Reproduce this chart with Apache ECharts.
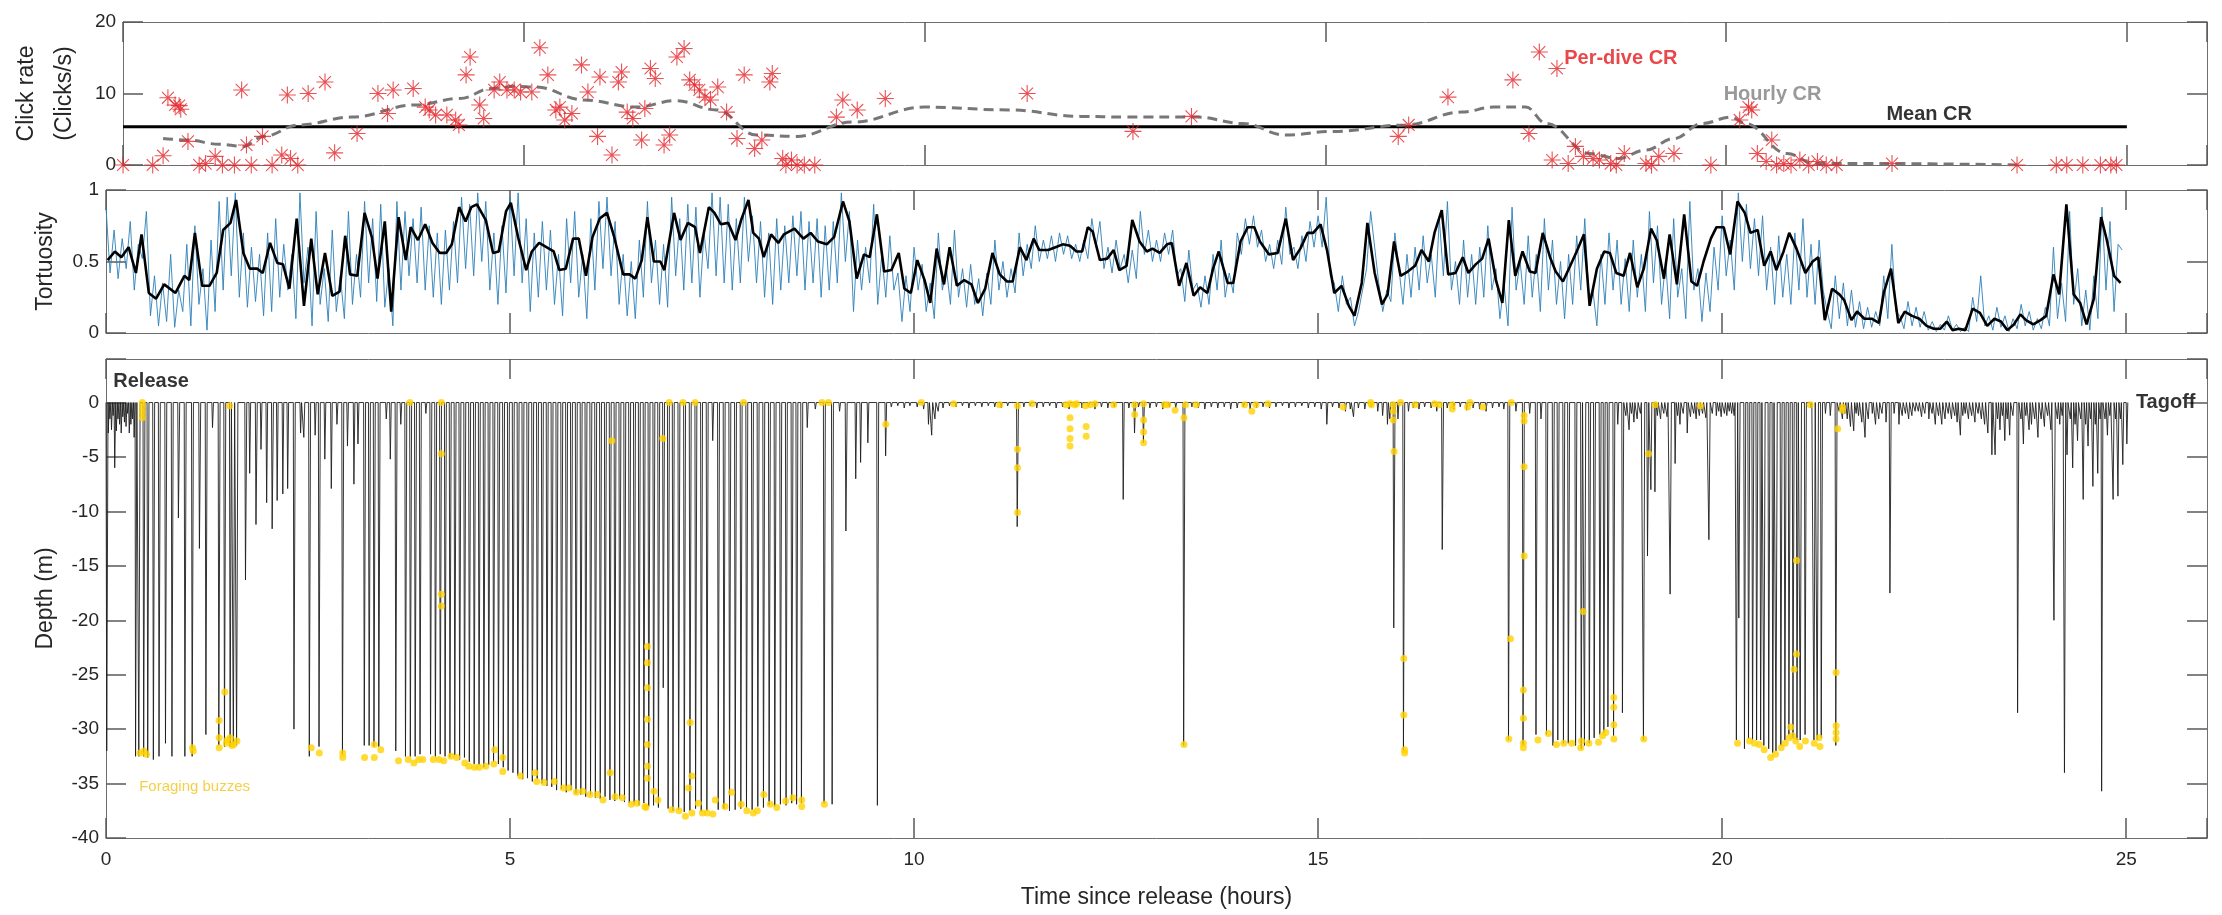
<!DOCTYPE html>
<html>
<head>
<meta charset="utf-8">
<title>Click rate, tortuosity and depth</title>
<script src="https://cdn.jsdelivr.net/npm/echarts@6/dist/echarts.min.js"></script>
<style>
html, body {margin: 0; padding: 0; background: #fff;}
#chart {width: 2222px; height: 915px;}
</style>
</head>
<body>
<div id="chart"></div>
<script>
// ---- data (time in hours since release) ----

// per-dive click rate [t, clicks/s]
var perDiveCR = [
    [0,0],[0.37,0],[0.5,1.3],[0.56,9.4],[0.65,8.4],[0.70,8.3],[0.72,7.8],[0.81,3.3],[0.95,0],[1.03,0.2],
    [1.15,1.2],[1.24,0],[1.39,0],[1.48,10.5],[1.54,2.8],[1.6,0],[1.74,4.0],[1.86,0],[1.98,1.4],[2.05,9.8],
    [2.09,0.9],[2.18,0],[2.31,10.0],[2.52,11.6],[2.64,1.7],[2.92,4.4],[3.18,10.0],[3.30,7.2],[3.37,10.5],[3.62,10.7],
    [3.77,8.1],[3.82,7.7],[3.90,7.0],[4.04,7.0],[4.15,6.3],[4.19,5.6],[4.28,12.6],[4.33,15.1],[4.45,8.4],[4.50,6.5],
    [4.63,10.5],[4.70,11.6],[4.79,10.5],[4.88,10.5],[4.96,10.2],[5.10,10.2],[5.20,16.4],[5.30,12.6],[5.40,7.7],[5.45,8.1],
    [5.51,6.3],[5.60,7.2],[5.72,14.0],[5.80,10.2],[5.92,4.0],[5.95,12.3],[6.10,1.4],[6.18,11.6],[6.22,13.0],[6.29,7.4],
    [6.36,6.5],[6.47,3.5],[6.51,7.9],[6.58,13.5],[6.64,12.1],[6.75,2.8],[6.82,4.2],[6.91,15.1],[7.00,16.3],[7.07,11.9],
    [7.13,11.2],[7.19,10.5],[7.26,9.5],[7.33,9.1],[7.42,10.9],[7.53,7.4],[7.66,3.7],[7.75,12.6],[7.88,2.3],[7.97,3.5],
    [8.07,11.6],[8.10,12.8],[8.23,0.9],[8.27,0],[8.34,0.7],[8.41,0],[8.50,0],[8.63,0],[8.90,6.7],[8.98,9.1],
    [9.16,7.7],[9.51,9.3],[11.28,10.0],[12.60,4.7],[13.33,6.8],[15.91,4.0],[16.04,5.6],[16.53,9.5],[17.34,11.9],[17.54,4.4],
    [17.67,15.8],[17.83,0.7],[17.89,13.5],[18.03,0.2],[18.12,2.6],[18.22,1.2],[18.34,0.9],[18.42,0.7],[18.56,0.2],[18.63,0],
    [18.73,1.6],[19.00,0.2],[19.07,0],[19.16,1.2],[19.35,1.6],[19.81,0],[20.17,6.3],[20.28,8.1],[20.32,7.7],[20.39,1.6],
    [20.50,0.5],[20.57,3.5],[20.63,0],[20.72,0.2],[20.81,0],[20.92,0.7],[21.03,0],[21.14,0.5],[21.25,0],[21.38,0],
    [22.07,0.2],[23.63,0],[24.12,0],[24.25,0],[24.45,0],[24.67,0],[24.80,0],[24.87,0]
];

// hourly click rate [t, clicks/s]
var hourlyCR = [
    [0.5,3.7],[0.8,3.5],[1.2,2.9],[1.5,2.6],[1.75,4.0],[2.2,5.6],[2.85,6.7],[3.65,8.4],[4.2,9.3],[4.6,10.7],
    [4.9,11.0],[5.15,10.9],[5.75,9.1],[6.4,8.1],[6.9,9.0],[7.4,7.7],[7.9,4.2],[8.4,4.0],[9.1,6.0],[10.0,8.1],
    [11.05,7.7],[11.95,6.8],[12.5,6.7],[13.4,6.7],[13.97,5.8],[14.5,4.2],[15.1,4.7],[16.0,5.6],[16.7,7.4],[17.1,8.1],
    [17.5,8.1],[17.76,5.8],[18.3,1.6],[18.65,0.9],[19.0,2.1],[19.35,3.7],[19.7,5.8],[20.06,6.7],[20.24,5.8],[20.76,1.6],
    [21.1,0.2],[22.0,0.2],[23.63,0]
];

var meanCR = 5.35;
var meanCRSpan = [0, 25];

// smoothed tortuosity [t, value]
var tortSmooth = [
    [0.02,0.51],[0.11,0.57],[0.19,0.53],[0.28,0.60],[0.37,0.42],[0.44,0.69],[0.53,0.28],[0.62,0.24],[0.72,0.34],[0.86,0.28],
    [0.97,0.40],[1.03,0.37],[1.10,0.70],[1.19,0.33],[1.28,0.33],[1.37,0.42],[1.45,0.72],[1.54,0.77],[1.61,0.93],[1.70,0.56],
    [1.78,0.45],[1.87,0.45],[1.94,0.42],[2.03,0.63],[2.12,0.49],[2.19,0.48],[2.27,0.31],[2.36,0.80],[2.45,0.19],[2.54,0.66],
    [2.62,0.27],[2.71,0.56],[2.80,0.26],[2.89,0.29],[2.96,0.68],[3.02,0.41],[3.11,0.40],[3.20,0.84],[3.29,0.67],[3.36,0.38],
    [3.45,0.78],[3.53,0.15],[3.62,0.81],[3.71,0.51],[3.77,0.74],[3.86,0.65],[3.95,0.76],[4.04,0.63],[4.13,0.56],[4.21,0.56],
    [4.28,0.62],[4.37,0.88],[4.45,0.78],[4.52,0.88],[4.59,0.90],[4.70,0.79],[4.79,0.56],[4.86,0.57],[4.95,0.85],[5.01,0.91],
    [5.10,0.67],[5.20,0.44],[5.27,0.57],[5.36,0.63],[5.45,0.60],[5.54,0.57],[5.61,0.44],[5.69,0.45],[5.78,0.66],[5.85,0.66],
    [5.94,0.40],[6.02,0.67],[6.11,0.80],[6.20,0.84],[6.29,0.67],[6.40,0.41],[6.48,0.41],[6.55,0.38],[6.63,0.51],[6.70,0.81],
    [6.78,0.50],[6.86,0.50],[6.91,0.44],[7.03,0.84],[7.11,0.65],[7.20,0.77],[7.29,0.74],[7.35,0.56],[7.46,0.88],[7.53,0.84],
    [7.61,0.76],[7.70,0.77],[7.79,0.65],[7.86,0.79],[7.95,0.93],[8.01,0.70],[8.08,0.66],[8.14,0.53],[8.23,0.69],[8.32,0.63],
    [8.39,0.69],[8.52,0.73],[8.63,0.66],[8.72,0.70],[8.81,0.64],[8.92,0.62],[9.01,0.67],[9.12,0.92],[9.20,0.78],[9.29,0.38],
    [9.38,0.55],[9.45,0.53],[9.54,0.83],[9.63,0.43],[9.72,0.44],[9.81,0.56],[9.88,0.31],[9.96,0.28],[10.04,0.51],[10.13,0.37],
    [10.20,0.21],[10.28,0.59],[10.37,0.34],[10.44,0.60],[10.53,0.33],[10.62,0.37],[10.71,0.34],[10.79,0.21],[10.88,0.31],[10.97,0.56],
    [11.06,0.41],[11.15,0.36],[11.22,0.36],[11.31,0.60],[11.39,0.51],[11.48,0.66],[11.55,0.58],[11.66,0.58],[11.75,0.60],[11.84,0.62],
    [11.93,0.61],[12.01,0.57],[12.08,0.57],[12.15,0.74],[12.21,0.71],[12.30,0.51],[12.39,0.52],[12.47,0.58],[12.54,0.44],[12.63,0.47],
    [12.70,0.79],[12.79,0.64],[12.88,0.57],[12.95,0.59],[13.04,0.56],[13.13,0.62],[13.19,0.63],[13.28,0.33],[13.37,0.49],[13.46,0.26],
    [13.54,0.32],[13.63,0.28],[13.70,0.45],[13.77,0.57],[13.88,0.35],[13.95,0.35],[14.04,0.64],[14.13,0.74],[14.21,0.74],[14.28,0.64],
    [14.39,0.55],[14.50,0.56],[14.60,0.80],[14.69,0.51],[14.78,0.59],[14.87,0.70],[14.94,0.70],[15.03,0.76],[15.11,0.58],[15.20,0.28],
    [15.29,0.33],[15.38,0.19],[15.45,0.12],[15.54,0.35],[15.61,0.77],[15.70,0.42],[15.79,0.20],[15.86,0.27],[15.94,0.64],[16.02,0.40],
    [16.11,0.43],[16.20,0.47],[16.28,0.58],[16.37,0.50],[16.44,0.70],[16.53,0.86],[16.61,0.41],[16.70,0.42],[16.79,0.53],[16.86,0.42],
    [16.95,0.48],[17.03,0.52],[17.11,0.66],[17.20,0.37],[17.28,0.21],[17.36,0.79],[17.44,0.40],[17.53,0.57],[17.62,0.43],[17.69,0.42],
    [17.78,0.70],[17.87,0.53],[17.94,0.43],[18.03,0.36],[18.12,0.47],[18.20,0.57],[18.29,0.69],[18.36,0.19],[18.45,0.45],[18.54,0.57],
    [18.61,0.56],[18.69,0.42],[18.78,0.40],[18.86,0.56],[18.95,0.32],[19.03,0.45],[19.12,0.73],[19.19,0.65],[19.28,0.38],[19.35,0.69],
    [19.44,0.34],[19.53,0.83],[19.62,0.36],[19.69,0.33],[19.77,0.50],[19.86,0.66],[19.93,0.74],[20.02,0.74],[20.10,0.55],[20.19,0.92],
    [20.28,0.84],[20.35,0.70],[20.44,0.72],[20.52,0.47],[20.60,0.57],[20.67,0.44],[20.76,0.57],[20.83,0.70],[20.92,0.59],[21.03,0.42],
    [21.12,0.50],[21.19,0.53],[21.27,0.09],[21.36,0.31],[21.45,0.27],[21.51,0.23],[21.60,0.09],[21.67,0.15],[21.76,0.10],[21.85,0.10],
    [21.94,0.07],[22.00,0.28],[22.09,0.45],[22.18,0.07],[22.26,0.15],[22.35,0.12],[22.44,0.10],[22.53,0.05],[22.62,0.03],[22.70,0.03],
    [22.78,0.08],[22.85,0.02],[22.93,0.03],[23.01,0.02],[23.10,0.17],[23.19,0.14],[23.28,0.05],[23.37,0.10],[23.45,0.08],[23.53,0.02],
    [23.61,0.06],[23.69,0.13],[23.76,0.09],[23.85,0.06],[23.94,0.09],[24.01,0.12],[24.10,0.41],[24.17,0.27],[24.26,0.90],[24.35,0.27],
    [24.43,0.21],[24.51,0.06],[24.60,0.24],[24.69,0.81],[24.76,0.65],[24.85,0.40],[24.93,0.35]
];

// per-dive tortuosity, one row per hour, sampled every 0.05 h
var tortRawStep = 0.05;
var tortRawRows = [
    [0.88,0.42,0.72,0.38,0.66,0.45,0.78,0.30,0.62,0.52,0.85,0.12,0.40,0.05,0.35,0.08,0.55,0.04,0.30,0.15],
    [0.62,0.05,0.75,0.20,0.45,0.02,0.65,0.15,0.92,0.30,0.95,0.40,0.98,0.25,0.70,0.18,0.60,0.22,0.55,0.12],
    [0.70,0.15,0.80,0.25,0.62,0.30,0.55,0.10,0.98,0.35,0.60,0.05,0.85,0.20,0.45,0.08,0.72,0.15,0.40,0.10],
    [0.85,0.20,0.55,0.25,0.92,0.35,0.80,0.22,0.90,0.18,0.45,0.05,0.92,0.30,0.85,0.40,0.80,0.35,0.88,0.30],
    [0.75,0.25,0.70,0.20,0.72,0.30,0.78,0.35,0.95,0.45,0.90,0.40,0.98,0.50,0.92,0.30,0.70,0.20,0.75,0.28],
    [0.95,0.40,0.98,0.35,0.80,0.15,0.70,0.25,0.78,0.30,0.72,0.20,0.55,0.12,0.80,0.35,0.85,0.25,0.55,0.10],
    [0.80,0.30,0.92,0.45,0.95,0.40,0.78,0.20,0.55,0.12,0.50,0.10,0.65,0.25,0.92,0.35,0.65,0.20,0.62,0.18],
    [0.95,0.40,0.80,0.30,0.90,0.35,0.88,0.25,0.70,0.45,0.98,0.40,0.95,0.35,0.90,0.30,0.80,0.35,0.95,0.50],
    [0.82,0.35,0.78,0.25,0.70,0.20,0.80,0.30,0.75,0.35,0.82,0.40,0.85,0.30,0.78,0.35,0.80,0.25,0.75,0.30],
    [0.78,0.35,0.98,0.50,0.85,0.15,0.65,0.30,0.60,0.35,0.90,0.20,0.55,0.25,0.68,0.30,0.42,0.08,0.40,0.15],
    [0.60,0.30,0.48,0.15,0.35,0.10,0.70,0.30,0.45,0.20,0.72,0.25,0.45,0.18,0.48,0.20,0.38,0.12,0.42,0.20],
    [0.65,0.30,0.50,0.25,0.45,0.28,0.70,0.40,0.62,0.45,0.75,0.50,0.65,0.52,0.68,0.50,0.70,0.55,0.68,0.52],
    [0.62,0.50,0.65,0.52,0.80,0.60,0.78,0.45,0.60,0.42,0.65,0.45,0.55,0.35,0.58,0.38,0.85,0.55,0.72,0.50],
    [0.65,0.50,0.70,0.55,0.72,0.40,0.45,0.22,0.58,0.30,0.35,0.18,0.40,0.20,0.55,0.30,0.65,0.25,0.42,0.28],
    [0.70,0.55,0.80,0.62,0.82,0.60,0.72,0.50,0.62,0.45,0.65,0.48,0.88,0.55,0.60,0.45,0.68,0.50,0.78,0.60],
    [0.82,0.60,0.95,0.40,0.35,0.15,0.40,0.20,0.25,0.05,0.15,0.30,0.45,0.85,0.60,0.35,0.15,0.30,0.22,0.70],
    [0.45,0.20,0.55,0.25,0.60,0.30,0.68,0.35,0.55,0.25,0.80,0.40,0.92,0.30,0.50,0.20,0.65,0.25,0.55,0.20],
    [0.60,0.25,0.75,0.30,0.45,0.10,0.35,0.05,0.88,0.30,0.50,0.20,0.68,0.25,0.55,0.15,0.80,0.30,0.65,0.20],
    [0.50,0.10,0.55,0.20,0.68,0.30,0.80,0.25,0.30,0.05,0.55,0.20,0.70,0.30,0.65,0.20,0.52,0.15,0.65,0.25],
    [0.55,0.15,0.85,0.35,0.75,0.20,0.50,0.10,0.80,0.25,0.45,0.10,0.92,0.30,0.45,0.08,0.42,0.15,0.60,0.30],
    [0.82,0.40,0.65,0.30,0.98,0.50,0.90,0.45,0.80,0.40,0.82,0.30,0.60,0.20,0.68,0.25,0.55,0.20,0.70,0.30],
    [0.80,0.25,0.62,0.20,0.65,0.30,0.15,0.03,0.40,0.10,0.35,0.05,0.30,0.04,0.22,0.03,0.18,0.04,0.15,0.05],
    [0.40,0.10,0.62,0.15,0.12,0.03,0.22,0.05,0.18,0.04,0.15,0.02,0.08,0.01,0.06,0.02,0.12,0.02,0.06,0.01],
    [0.04,0.01,0.25,0.08,0.40,0.05,0.12,0.02,0.18,0.04,0.12,0.01,0.10,0.03,0.20,0.05,0.15,0.02,0.10,0.03],
    [0.18,0.05,0.60,0.10,0.35,0.08,0.85,0.20,0.45,0.05,0.30,0.02,0.40,0.10,0.88,0.30,0.78,0.15,0.62,0.58]
];

// dives [t, maximum depth in m]
var divesA = [
    [0.013,32.0],[0.03,2.8],[0.05,1.5],[0.07,2.5],[0.09,1.2],[0.11,6.0],[0.13,2.6],[0.15,1.5],[0.17,2.0],[0.19,2.8],
    [0.21,1.3],[0.23,1.8],[0.25,2.2],[0.27,1.0],[0.29,2.8],[0.31,2.0],[0.33,1.5],[0.35,3.2],
    [0.37,32.5],[0.41,32.5],[0.47,32.5],[0.52,32.6],[0.59,32.8],[0.66,32.5],[0.74,31.3],[0.82,32.5],[0.90,10.6],[0.98,32.5],
    [1.07,32.5],[1.16,13.4],[1.24,30.5],[1.32,2.3],[1.40,31.5],[1.47,31.6],[1.54,31.6],[1.58,31.5],[1.62,31.5],[1.73,16.3],
    [1.78,6.5],[1.86,11.2],[1.92,4.3],[1.99,9.2],[2.06,11.6],[2.12,9.0],[2.19,8.4],[2.25,7.9],[2.33,30.0],[2.41,2.8],
    [2.45,3.2],[2.52,32.5],[2.59,3.0],[2.64,31.6],[2.71,5.2],[2.79,7.9],[2.86,2.0],[2.93,32.3],[2.99,4.0],[3.07,7.5],
    [3.12,3.8],[3.20,31.5],[3.26,31.5],[3.32,31.6],[3.38,31.6],[3.47,1.5],[3.52,5.2],[3.59,32.0],[3.65,2.0],
    [3.71,32.5],[3.77,32.5],[3.83,32.5],[3.89,32.3],[3.96,1.0],[4.02,32.3],[4.08,32.5],[4.14,32.3],[4.20,32.5],[4.26,32.6],
    [4.32,32.4],[4.38,32.8],[4.44,32.6],[4.50,33.0],[4.56,33.2],[4.62,33.3],[4.68,33.5],[4.74,33.3],[4.80,33.0],[4.86,33.2],
    [4.92,33.5],[4.98,33.8],[5.04,34.0],[5.10,34.3],[5.16,34.6],[5.22,34.5],[5.28,34.8],[5.34,34.6],[5.40,35.0],[5.46,35.2],
    [5.52,35.3],[5.58,35.6],[5.64,35.5],[5.70,35.8],[5.76,35.6],[5.82,35.9],[5.88,36.0],[5.94,36.2],[6.00,36.0],[6.06,36.3],
    [6.12,36.4],[6.18,36.2],[6.24,36.5],[6.30,36.6],[6.36,36.4],[6.42,36.7],[6.48,36.8],[6.54,36.9],[6.60,37.0],[6.66,36.8],
    [6.72,37.1],[6.78,37.0],[6.84,37.2],[6.90,26.2],[6.96,37.3],[7.02,37.5],[7.09,37.4],[7.16,37.6],[7.23,37.5],[7.30,37.3],
    [7.37,37.6],[7.44,37.5],[7.51,3.5],[7.58,37.4],[7.65,37.3],[7.72,37.5],[7.79,37.4],[7.86,37.3],[7.93,37.2],[8.00,37.4],
    [8.07,37.1],[8.14,37.2],[8.21,37.0],[8.28,37.1],[8.35,36.9],[8.42,37.0],[8.49,36.8],[8.55,36.9],[8.61,36.8],[8.68,2.3],
    [8.78,0.6],[8.89,36.8],[8.99,36.9],[9.08,0.8],[9.16,11.8],[9.28,7.0],[9.34,5.5],[9.43,3.7],[9.55,37.0],[9.65,4.9]
];
var divesB = [
    [9.72,0.4],[9.80,0.3],[9.88,0.5],[9.95,0.3],[10.04,0.4],[10.12,0.6],[10.18,2.0],[10.22,3.0],[10.26,1.5],[10.30,0.8],
    [10.36,0.5],[10.44,0.3],[10.52,0.4],[10.60,0.3],[10.68,0.5],[10.76,0.3],[10.84,0.4],[10.92,0.3],[11.00,0.4],[11.08,0.5],
    [11.16,0.3],[11.28,11.4],[11.36,0.4],[11.44,0.3],[11.52,0.5],[11.60,0.4],[11.68,0.3],[11.76,0.5],[11.84,0.4],[11.92,0.6],
    [12.00,0.4],[12.08,0.5],[12.16,0.4],[12.24,0.6],[12.32,0.4],[12.40,0.5],[12.48,0.4],[12.59,8.9],[12.66,0.5],[12.73,2.8],
    [12.78,0.4],[12.84,3.7],[12.92,0.5],[13.00,0.4],[13.08,0.6],[13.16,0.4],[13.24,0.5],[13.34,31.5],[13.44,0.4],[13.52,0.5],
    [13.60,0.6],[13.68,0.4],[13.76,0.5],[13.84,0.4],[13.92,0.6],[14.00,0.5],[14.08,0.4],[14.16,0.6],[14.24,0.5],[14.32,0.4],
    [14.40,0.5],[14.48,0.4],[14.56,0.3],[14.64,0.5],[14.72,0.4],[14.80,0.3],[14.88,0.5],[14.96,0.4],[15.04,0.6],[15.11,2.0],
    [15.18,0.4],[15.26,0.5],[15.34,0.8],[15.40,0.6],[15.44,1.3],[15.50,0.5],[15.58,0.6],[15.66,0.4],[15.74,0.8],[15.80,1.2]
];
var divesC = [
    [15.86,2.0],[15.89,1.5],[15.94,20.7],[15.99,1.5],[16.06,32.0],[16.12,0.8],[16.18,0.5],[16.25,0.6],[16.32,0.4],[16.40,0.5],
    [16.47,0.8],[16.54,13.5],[16.60,0.5],[16.68,0.6],[16.76,0.4],[16.84,0.7],[16.92,0.5],[17.00,0.6],[17.08,0.8],[17.16,0.5],
    [17.24,0.4],[17.30,0.6],[17.36,31.0],[17.45,0.8],[17.54,31.5],[17.62,1.0],[17.70,30.5],[17.76,1.5],[17.83,30.5],[17.91,31.5],
    [17.97,31.0],[18.04,31.3],[18.10,31.3],[18.19,31.5],[18.26,31.8],[18.30,31.5],[18.36,31.3],[18.42,30.8],[18.49,30.5],[18.54,30.3],
    [18.59,29.8],[18.66,30.6],[18.71,2.0],[18.77,28.5],[18.81,1.2],[18.85,2.5],[18.88,1.0],[18.91,1.8],[18.95,1.5],[18.99,1.0],
    [19.03,31.0],[19.08,14.1],[19.12,8.0],[19.17,8.2],[19.20,1.2],[19.24,1.5],[19.28,1.0],[19.32,1.3],[19.36,17.6],[19.42,5.6],
    [19.45,1.2],[19.48,2.0],[19.52,1.0],[19.57,2.8],[19.61,1.3],[19.65,1.0],[19.68,1.5],[19.72,1.2],[19.76,1.0],[19.80,1.4],
    [19.84,12.6],[19.88,1.0],[19.93,1.2],[19.96,0.8],[19.99,1.3],[20.03,1.0],[20.06,1.2],[20.09,0.8],[20.12,1.0],[20.15,1.2]
];
var divesD = [
    [20.18,31.0],[20.21,19.8],[20.28,31.8],[20.33,30.9],[20.38,31.0],[20.43,31.0],[20.48,31.0],[20.52,31.5],[20.58,31.8],[20.63,32.2],
    [20.67,32.0],[20.73,31.5],[20.78,31.0],[20.83,30.5],[20.88,30.8],[20.93,31.0],[20.97,31.0],[21.03,30.5],[21.10,0.5],[21.14,31.0],
    [21.18,31.0],[21.23,30.8],[21.28,1.0],[21.34,1.2],[21.41,31.5],[21.45,0.8],[21.49,1.5],[21.52,1.0],[21.55,1.5],[21.59,2.2],
    [21.63,2.6],[21.66,1.0],[21.69,1.2],[21.73,1.8],[21.77,3.2],[21.81,1.5],[21.86,1.0],[21.90,2.0],[21.94,1.5],[21.98,1.0],
    [22.03,1.8],[22.08,17.5],[22.13,1.0],[22.19,2.0],[22.23,1.2],[22.27,1.0],[22.31,1.5],[22.35,1.2],[22.39,0.8],[22.43,0.8],
    [22.47,1.3],[22.51,1.0],[22.56,1.5],[22.60,1.0],[22.64,2.0],[22.68,1.2],[22.72,2.0],[22.76,1.5],[22.80,1.0],[22.84,1.5],
    [22.88,1.2],[22.91,1.8],[22.95,3.0],[22.98,1.2],[23.01,1.0],[23.05,1.5],[23.09,1.2],[23.13,1.8],[23.17,1.0],[23.21,1.5],
    [23.25,2.0],[23.29,2.8],[23.34,4.8],[23.38,4.8],[23.41,1.5],[23.44,2.5],[23.47,1.2],[23.50,3.5],[23.53,1.5],[23.56,3.0],
    [23.60,1.2],[23.66,28.5],[23.70,1.5],[23.73,3.8],[23.76,1.2],[23.80,2.5],[23.83,2.0],[23.87,1.5],[23.91,3.2],[23.95,1.5],
    [23.99,2.2],[24.03,1.2],[24.07,2.5],[24.11,20.0],[24.15,1.5],[24.18,2.0],[24.21,1.2],[24.24,34.0],[24.27,4.8],[24.31,1.5],
    [24.34,6.0],[24.37,2.0],[24.40,3.5],[24.44,1.5],[24.47,8.9],[24.50,2.0],[24.53,4.0],[24.56,1.5],[24.59,7.7],[24.62,2.0],
    [24.65,6.5],[24.68,1.5],[24.70,35.7],[24.74,1.5],[24.77,3.0],[24.80,1.2],[24.84,8.9],[24.87,1.5],[24.90,8.6],[24.93,1.5],
    [24.96,5.7],[25.01,3.8]
];

// foraging buzzes [t, depth m]
var buzzes = [
    [0.45,0],[0.45,-0.4],[0.45,-0.9],[0.45,-1.4],[0.42,-32.2],[0.47,-32.0],[0.50,-32.3],[1.07,-31.7],[1.08,-32.0],
    [1.40,-29.2],[1.40,-30.8],[1.40,-31.7],[1.47,-26.6],[1.49,-31.3],[1.54,-30.8],[1.58,-31.4],[1.62,-31.1],[1.53,-0.3],[1.50,-31.0],[1.56,-31.5],
    [2.54,-31.7],[2.64,-32.2],[2.93,-32.6],[2.93,-32.2],[3.20,-32.6],[3.32,-32.6],[3.32,-31.4],[3.40,-31.9],
    [3.62,-32.9],[3.74,-32.8],[3.81,-33.1],[3.87,-32.8],[3.92,-32.8],[3.76,0],[4.15,0],[4.15,-4.7],[4.15,-17.6],[4.15,-18.7],
    [4.05,-32.8],[4.12,-32.8],[4.18,-32.9],[4.27,-32.5],[4.34,-32.6],[4.44,-33.1],[4.49,-33.4],[4.56,-33.5],[4.62,-33.5],[4.70,-33.4],
    [4.80,-33.2],[4.81,-31.9],[4.91,-32.6],[4.91,-33.9],[5.13,-34.3],[5.31,-34.0],[5.33,-34.8],[5.42,-34.9],
    [5.55,-34.8],[5.66,-35.4],[5.73,-35.4],[5.82,-35.8],[5.90,-35.7],[5.99,-36.0],[6.08,-36.0],[6.15,-36.5],[6.24,-34.0],[6.26,-3.5],
    [6.30,-36.2],[6.39,-36.3],[6.50,-36.9],[6.57,-36.8],[6.68,-37.2],
    [6.70,-22.4],[6.70,-23.9],[6.70,-26.2],[6.70,-29.1],[6.70,-31.4],[6.70,-33.4],[6.70,-34.5],
    [6.67,-37.1],[6.78,-35.7],[6.83,-36.5],[6.89,-3.3],[6.97,0],[7.14,0],[7.29,0],[7.89,0],[8.86,0],[8.94,0],[9.65,-2.0],
    [7.00,-37.4],[7.09,-37.5],[7.17,-38.0],[7.25,-37.7],[7.23,-29.4],[7.25,-34.3],[7.21,-35.4],[7.33,-36.8],[7.38,-37.7],[7.44,-37.7],
    [7.51,-37.8],[7.54,-36.5],[7.66,-37.1],[7.74,-35.8],[7.86,-36.9],[7.93,-37.5],[8.01,-37.7],[8.06,-37.5],[8.14,-36.0],[8.22,-36.9],
    [8.30,-37.2],[8.41,-36.6],[8.50,-36.3],[8.61,-37.1],[8.61,-36.5],[8.89,-36.9],
    [10.09,0],[10.49,-0.1],[11.06,-0.2],[11.28,-0.3],[11.28,-4.3],[11.28,-6.0],[11.28,-10.1],[11.46,-0.1],
    [11.88,-0.2],[11.93,-0.1],[11.99,-0.2],[12.01,-0.1],[11.93,-1.4],[11.93,-2.4],[11.93,-3.3],[11.93,-4.0],
    [12.12,-0.3],[12.18,-0.2],[12.24,-0.1],[12.13,-2.2],[12.13,-3.1],[12.47,-0.2],[12.73,-0.2],[12.73,-1.1],
    [12.84,-0.1],[12.84,-1.6],[12.84,-2.7],[12.84,-3.7],[13.10,-0.2],[13.14,-0.2],[13.23,-0.7],[13.36,-0.2],[13.34,-1.4],[13.34,-31.4],[13.49,-0.2],
    [14.09,-0.2],[14.18,-0.8],[14.23,-0.2],[14.38,-0.1],[15.31,-0.4],[15.65,0],[15.66,-0.2],
    [15.93,-0.2],[15.93,-0.8],[15.93,-1.6],[15.94,-4.5],[16.02,0],[16.06,-23.5],[16.06,-28.7],[16.07,-31.9],[16.07,-32.2],
    [16.20,-0.2],[16.44,-0.1],[16.50,-0.2],[16.66,-0.2],[16.66,-0.6],[16.85,-0.4],[16.88,0],[17.04,-0.4],
    [17.39,0],[17.38,-21.7],[17.36,-30.9],[17.55,-1.2],[17.55,-1.7],[17.55,-5.9],[17.55,-14.1],[17.54,-26.4],[17.54,-29.0],[17.54,-31.3],[17.54,-31.7],
    [17.72,-31.0],[17.85,-30.4],[17.95,-31.4],[18.04,-31.3],[18.14,-31.3],[18.25,-31.7],[18.26,-31.1],[18.35,-31.3],[18.47,-31.2],[18.52,-30.6],
    [18.56,-30.3],[18.28,-19.2],[18.66,-27.1],[18.66,-28.0],[18.66,-29.6],[18.66,-30.9],
    [19.03,-30.9],[19.09,-4.7],[19.17,-0.2],[19.73,-0.3],
    [20.19,-31.3],[20.34,-31.1],[20.40,-31.3],[20.46,-31.4],[20.52,-31.9],[20.60,-32.6],[20.66,-32.3],[20.73,-31.7],[20.78,-31.3],[20.83,-30.8],
    [20.87,-30.6],[20.91,-31.1],[20.96,-31.6],[21.03,-31.1],[21.14,-31.3],[21.20,-30.8],[21.21,-31.6],
    [20.85,-29.8],[20.89,-24.5],[20.92,-23.1],[20.92,-14.5],[21.09,-0.2],[21.49,-0.4],[21.49,-0.7],[21.43,-2.4],
    [21.41,-24.8],[21.41,-29.7],[21.41,-30.9],[21.41,-30.3]
];

// ---- build series data ----
var tortRaw = [];
for (var h = 0; h < tortRawRows.length; h++) {
    for (var k = 0; k < tortRawRows[h].length; k++) {
        tortRaw.push([+(h + k * tortRawStep).toFixed(2), tortRawRows[h][k]]);
    }
}

var allDives = divesA.concat(divesB, divesC, divesD).sort(function (a, b) { return a[0] - b[0]; });
var depthTrace = [[0, 0]];
for (var i = 0; i < allDives.length; i++) {
    var t = allDives[i][0], d = allDives[i][1];
    var half = d > 10 ? 0.012 : 0.010;   // half width of the dive at the surface (h)
    var bot = d > 10 ? 0.004 : 0.002;    // half width at the bottom (h)
    depthTrace.push([t - half, 0], [t - bot, -d], [t + bot, -d], [t + half, 0]);
}

var FONT = 'Liberation Sans, Arial, Helvetica, sans-serif';
var AXIS_COLOR = '#6e6e6e';
var TICK_COLOR = '#5a5a5a';
var LABEL_COLOR = '#262626';

function xAx(gi, pos, showLabel) {
    return {
        type: 'value', gridIndex: gi, position: pos,
        min: 0, max: 26, interval: 5,
        axisLine: {show: true, onZero: false, lineStyle: {color: AXIS_COLOR, width: 1}},
        axisTick: {show: true, inside: true, length: 20, lineStyle: {color: TICK_COLOR, width: 1.5}},
        axisLabel: {
            show: showLabel, fontSize: 19, color: LABEL_COLOR, fontFamily: FONT, margin: 12,
            formatter: function (v) { return v % 5 === 0 ? String(v) : ''; }
        },
        splitLine: {show: false},
        name: showLabel ? 'Time since release (hours)' : '',
        nameLocation: 'middle', nameGap: 48,
        nameTextStyle: {fontSize: 23, color: LABEL_COLOR, fontFamily: FONT}
    };
}

function yAx(gi, pos, min, max, step, showLabel, name, gap, lineH) {
    return {
        type: 'value', gridIndex: gi, position: pos,
        min: min, max: max, interval: step,
        axisLine: {show: true, onZero: false, lineStyle: {color: AXIS_COLOR, width: 1}},
        axisTick: {show: true, inside: true, length: 20, lineStyle: {color: TICK_COLOR, width: 1.5}},
        axisLabel: {
            show: showLabel, fontSize: 19, color: LABEL_COLOR, fontFamily: FONT, margin: 7,
            formatter: function (v) { return (Math.round(v / step * 1000) % 1000 === 0) ? String(v) : ''; }
        },
        splitLine: {show: false},
        name: showLabel ? name : '',
        nameLocation: 'middle', nameGap: gap || 45,
        nameTextStyle: {fontSize: 23, color: LABEL_COLOR, fontFamily: FONT, lineHeight: lineH || 28, align: 'center'}
    };
}

function note(gi, t, v, text, color, size, weight) {
    return {
        type: 'scatter', xAxisIndex: gi, yAxisIndex: gi,
        symbolSize: 0, silent: true, z: 10,
        data: [[t, v]],
        label: {
            show: true, position: 'right', distance: 0,
            formatter: text, color: color, fontSize: size, fontWeight: weight, fontFamily: FONT
        }
    };
}

var chart = echarts.init(document.getElementById('chart'), null, {renderer: 'canvas'});

var option = {
    backgroundColor: '#ffffff',
    animation: false,
    grid: [
        {left: 106, right: 15, top: 22, height: 143},
        {left: 106, right: 15, top: 190, height: 143},
        {left: 106, right: 15, top: 359, height: 479}
    ],
    xAxis: [
        xAx(0, 'bottom', false), xAx(1, 'bottom', false), xAx(2, 'bottom', true),
        xAx(0, 'top', false), xAx(1, 'top', false), xAx(2, 'top', false)
    ],
    yAxis: [
        yAx(0, 'left', 0, 20, 10, true, 'Click rate\n(Clicks/s)', 26, 38),
        yAx(1, 'left', 0, 1, 0.5, true, 'Tortuosity', 46),
        yAx(2, 'left', -40, 4, 5, true, 'Depth (m)', 46),
        yAx(0, 'right', 0, 20, 10, false),
        yAx(1, 'right', 0, 1, 0.5, false),
        yAx(2, 'right', -40, 4, 5, false)
    ],
    series: [
        {
            name: 'Mean CR', type: 'line', xAxisIndex: 0, yAxisIndex: 0,
            data: [[meanCRSpan[0], meanCR], [meanCRSpan[1], meanCR]],
            showSymbol: false, lineStyle: {color: '#000', width: 3}, z: 2
        },
        {
            name: 'Hourly CR', type: 'line', xAxisIndex: 0, yAxisIndex: 0,
            data: hourlyCR, smooth: 0.4, smoothMonotone: 'x',
            showSymbol: false, lineStyle: {color: '#777777', width: 3, type: [10, 6]}, z: 3
        },
        {
            name: 'Per-dive CR', type: 'scatter', xAxisIndex: 0, yAxisIndex: 0,
            data: perDiveCR, clip: false,
            symbol: 'path://M10,0L10,20M0,10L20,10M3,3L17,17M3,17L17,3',
            symbolSize: 17,
            itemStyle: {color: 'rgba(0,0,0,0)', borderColor: '#e3262b', borderWidth: 1.1},
            z: 4
        },
        note(0, 17.98, 14.9, 'Per-dive CR', '#e3191c', 20, 'bold'),
        note(0, 19.97, 9.8, 'Hourly CR', '#808080', 20, 'bold'),
        note(0, 22.0, 7.0, 'Mean CR', '#000000', 20, 'bold'),
        {
            name: 'Tortuosity', type: 'line', xAxisIndex: 1, yAxisIndex: 1,
            data: tortRaw, showSymbol: false,
            lineStyle: {color: '#2c7fb8', width: 0.9}, z: 2
        },
        {
            name: 'Tortuosity smoothed', type: 'line', xAxisIndex: 1, yAxisIndex: 1,
            data: tortSmooth, showSymbol: false,
            lineStyle: {color: '#000', width: 2.6}, z: 3
        },
        {
            name: 'Depth', type: 'line', xAxisIndex: 2, yAxisIndex: 2,
            data: depthTrace, showSymbol: false, sampling: null,
            lineStyle: {color: '#1e1e1e', width: 0.9}, z: 2
        },
        {
            name: 'Foraging buzzes', type: 'scatter', xAxisIndex: 2, yAxisIndex: 2,
            data: buzzes, symbol: 'circle', symbolSize: 7,
            itemStyle: {color: '#ffd200'}, z: 3
        },
        note(2, 0.09, 1.9, 'Release', '#000000', 20, 'bold'),
        note(2, 25.12, 0, 'Tagoff', '#000000', 20, 'bold'),
        note(2, 0.41, -35.3, 'Foraging buzzes', '#f0c419', 15, 'normal')
    ]
};

chart.setOption(option);
</script>
</body>
</html>
